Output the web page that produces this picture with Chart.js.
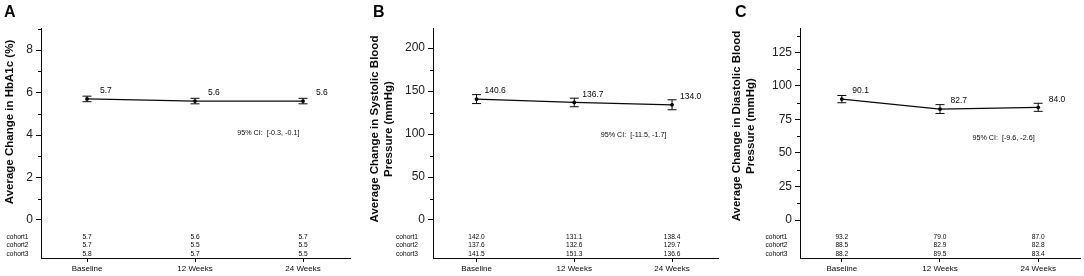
<!DOCTYPE html>
<html>
<head>
<meta charset="utf-8">
<script src="https://cdn.jsdelivr.net/npm/chart.js@4.4.1/dist/chart.umd.min.js"></script>
<style>
  body { margin: 0; background: #fff; }
  .wrap { position: relative; width: 1084px; height: 276px; }
  canvas { position: absolute; top: 0; }
</style>
</head>
<body>
<div class="wrap">
  <canvas id="chartA" width="360" height="276" style="left:0px"></canvas>
  <canvas id="chartB" width="362" height="276" style="left:360px"></canvas>
  <canvas id="chartC" width="362" height="276" style="left:722px"></canvas>
</div>
<script>
const categories = ['Baseline', '12 Weeks', '24 Weeks'];
const cohortNames = ['cohort1', 'cohort2', 'cohort3'];

// A: HbA1c
const hba1cMean = [5.7, 5.6, 5.6];
const hba1cErr = [0.13, 0.13, 0.13];
const hba1cCohorts = [[5.7, 5.6, 5.7], [5.7, 5.5, 5.5], [5.8, 5.7, 5.5]];
const hba1cTicks = [0, 2, 4, 6, 8];
const hba1cCI = '95% CI:  [-0.3, -0.1]';

// B: systolic
const sbpMean = [140.6, 136.7, 134.0];
const sbpErr = [5.2, 5.0, 5.8];
const sbpCohorts = [[142.0, 131.1, 138.4], [137.6, 132.6, 129.7], [141.5, 151.3, 136.6]];
const sbpTicks = [0, 50, 100, 150, 200];
const sbpCI = '95% CI:  [-11.5, -1.7]';

// C: diastolic
const dbpMean = [90.1, 82.7, 84.0];
const dbpErr = [2.7, 3.3, 3.0];
const dbpCohorts = [[93.2, 79.0, 87.0], [88.5, 82.9, 82.8], [88.2, 89.5, 83.4]];
const dbpTicks = [0, 25, 50, 75, 100, 125];
const dbpCI = '95% CI:  [-9.6, -2.6]';

const FONT = "'Liberation Sans', Arial, sans-serif";
const INK = '#0a0a0a';

const extras = {
  id: 'extras',
  afterDraw(chart, args, o) {
    const ctx = chart.ctx;
    const xs = chart.scales.x, ys = chart.scales.y;
    const area = chart.chartArea;
    ctx.save();
    ctx.fillStyle = INK;
    ctx.strokeStyle = INK;
    ctx.lineWidth = 1;

    // panel letter
    ctx.font = 'bold 16px ' + FONT;
    ctx.textAlign = 'left';
    ctx.textBaseline = 'top';
    ctx.fillText(o.letter, o.letterX, 5);

    // y title
    ctx.font = 'bold 11.5px ' + FONT;
    ctx.textAlign = 'center';
    ctx.textBaseline = 'middle';
    o.title.forEach((line, i) => {
      ctx.save();
      ctx.translate(o.titleX + i * 14, o.titleY);
      ctx.rotate(-Math.PI / 2);
      ctx.fillText(line, 0, 0);
      ctx.restore();
    });

    // minor ticks
    ctx.beginPath();
    for (let v = o.minor; v < ys.max; v += o.minor * 2) {
      const y = Math.round(ys.getPixelForValue(v)) + 0.5;
      ctx.moveTo(area.left - 3, y);
      ctx.lineTo(area.left, y);
    }
    ctx.stroke();

    // error bars
    ctx.beginPath();
    o.mean.forEach((m, i) => {
      const x = xs.getPixelForValue(i);
      const y1 = ys.getPixelForValue(m - o.err[i]);
      const y2 = ys.getPixelForValue(m + o.err[i]);
      ctx.moveTo(x, y1); ctx.lineTo(x, y2);
      ctx.moveTo(x - 4.5, y1); ctx.lineTo(x + 4.5, y1);
      ctx.moveTo(x - 4.5, y2); ctx.lineTo(x + 4.5, y2);
    });
    ctx.stroke();

    // value labels
    ctx.font = '8.5px ' + FONT;
    ctx.textAlign = 'left';
    o.mean.forEach((m, i) => {
      ctx.fillText(m.toFixed(1), xs.getPixelForValue(i) + o.labelDx, ys.getPixelForValue(m) - 8);
    });

    // CI note
    ctx.font = '7.2px ' + FONT;
    ctx.fillText(o.ci, xs.getPixelForValue(o.ciPos[0]), ys.getPixelForValue(o.ciPos[1]));

    // cohort table
    ctx.font = '6.6px ' + FONT;
    o.cohorts.forEach((row, r) => {
      const y = area.bottom - 21 + r * 8.5;
      ctx.textAlign = 'left';
      ctx.fillText(cohortNames[r], o.rowX, y);
      ctx.textAlign = 'center';
      row.forEach((v, i) => ctx.fillText(v.toFixed(1), xs.getPixelForValue(i), y));
    });
    ctx.restore();
  }
};

function makePanel(id, cfg) {
  return new Chart(document.getElementById(id), {
    type: 'line',
    data: {
      datasets: [{
        data: cfg.mean.map((v, i) => ({ x: i, y: v })),
        borderColor: INK,
        borderWidth: 1.2,
        pointRadius: 1.9,
        pointBackgroundColor: '#000',
        pointBorderWidth: 0,
        tension: 0
      }]
    },
    options: {
      responsive: false,
      animation: false,
      devicePixelRatio: 1,
      layout: { padding: { left: 0, top: 28, right: cfg.padRight, bottom: 0 } },
      plugins: {
        legend: { display: false },
        tooltip: { enabled: false },
        extras: cfg
      },
      scales: {
        x: {
          type: 'linear',
          min: cfg.xRange[0],
          max: cfg.xRange[1],
          afterBuildTicks: s => { s.ticks = categories.map((c, i) => ({ value: i })); },
          afterFit: s => { s.height = 18; },
          ticks: {
            callback: v => categories[v],
            font: { family: FONT, size: 8 },
            color: INK,
            padding: 2,
            maxRotation: 0,
            autoSkip: false
          },
          grid: { drawOnChartArea: false, tickLength: 4, tickColor: INK },
          border: { color: INK, width: 1 }
        },
        y: {
          min: cfg.yRange[0],
          max: cfg.yRange[1],
          afterBuildTicks: s => { s.ticks = cfg.ticks.map(v => ({ value: v })); },
          afterFit: s => { s.width = cfg.axisLeft; },
          ticks: {
            font: { family: FONT, size: 12 },
            color: '#222',
            padding: 3
          },
          grid: { drawOnChartArea: false, tickLength: 5, tickColor: INK },
          border: { color: INK, width: 1 }
        }
      }
    },
    plugins: [extras]
  });
}

makePanel('chartA', {
  letter: 'A', letterX: 4,
  title: ['Average Change in HbA1c (%)'], titleX: 10, titleY: 122,
  mean: hba1cMean, err: hba1cErr, cohorts: hba1cCohorts, ticks: hba1cTicks, minor: 1,
  ci: hba1cCI, ciPos: [1.39, 4.09],
  xRange: [-0.426, 2.435], yRange: [-1.79, 9.04],
  axisLeft: 41, padRight: 10, labelDx: 13, rowX: 6.5
});

makePanel('chartB', {
  letter: 'B', letterX: 13,
  title: ['Average Change in Systolic Blood', 'Pressure (mmHg)'], titleX: 14.5, titleY: 129,
  mean: sbpMean, err: sbpErr, cohorts: sbpCohorts, ticks: sbpTicks, minor: 25,
  ci: sbpCI, ciPos: [1.27, 99.4],
  xRange: [-0.445, 2.47], yRange: [-44.2, 223.3],
  axisLeft: 73, padRight: 1, labelDx: 8, rowX: 36
});

makePanel('chartC', {
  letter: 'C', letterX: 13,
  title: ['Average Change in Diastolic Blood', 'Pressure (mmHg)'], titleX: 15, titleY: 126,
  mean: dbpMean, err: dbpErr, cohorts: dbpCohorts, ticks: dbpTicks, minor: 12.5,
  ci: dbpCI, ciPos: [1.33, 61.1],
  xRange: [-0.426, 2.426], yRange: [-28.3, 143.1],
  axisLeft: 78, padRight: 1, labelDx: 10.5, rowX: 43.5
});
</script>
</body>
</html>
